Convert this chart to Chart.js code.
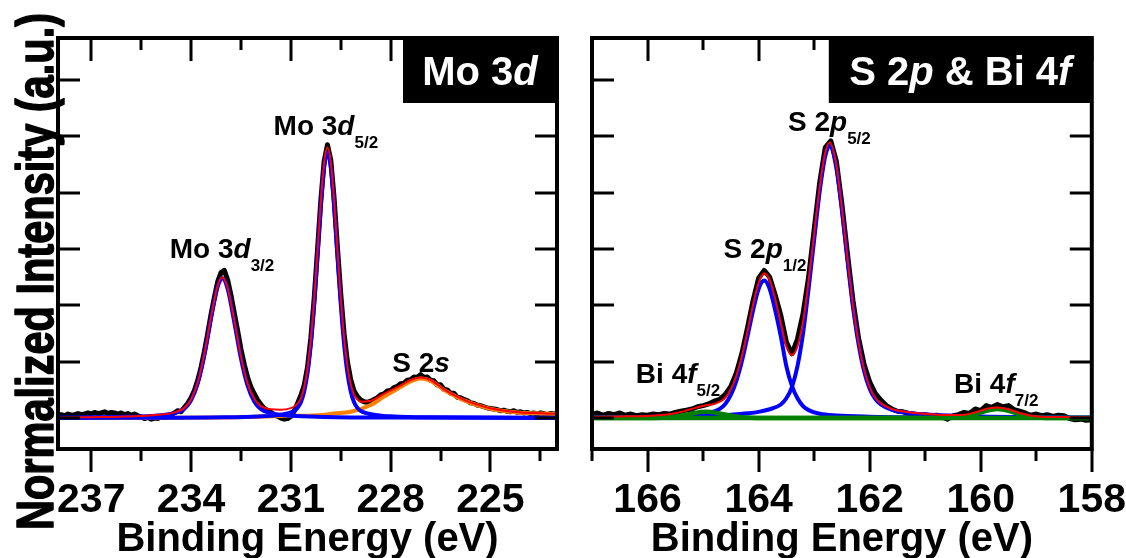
<!DOCTYPE html>
<html>
<head>
<meta charset="utf-8">
<script src="https://cdn.jsdelivr.net/npm/chart.js@4.4.0/dist/chart.umd.min.js"></script>
<style>
  html, body { margin: 0; padding: 0; background: #fff; }
  #wrap { position: relative; width: 1126px; height: 558px; overflow: hidden; }
  .panel { position: absolute; top: 0; height: 558px; }
  #moPanel { left: 0; width: 575px; }
  #sPanel { left: 575px; width: 551px; }
</style>
</head>
<body>
<div id="wrap">
  <div class="panel" id="moPanel"><canvas id="moChart"></canvas></div>
  <div class="panel" id="sPanel"><canvas id="sChart"></canvas></div>
</div>
<script>
const FONT = "'Liberation Sans', Arial, sans-serif";

// shared intensity axis (no labels, ticks only)
const yTicks = [0, 1, 2, 3, 4, 5, 6];
const yMin = -0.55;
const yMax = 6.746;

// ---------- Mo 3d panel ----------
const moTicks = [237, 235.5, 234, 232.5, 231, 229.5, 228, 226.5, 225, 223.5];
const moTickLabels = [237, 234, 231, 228, 225];

// measured spectrum, 238.0 -> 223.0 eV in 0.1 eV steps
const moScanStart = 238.0;
const moScanStep = 0.1;
const moSignal = [
  0.05, 0.06, 0.04, 0.07, 0.05, 0.06, 0.08, 0.06, 0.07, 0.09,
  0.07, 0.10, 0.08, 0.09, 0.11, 0.08, 0.10, 0.09, 0.07, 0.09,
  0.06, 0.08, 0.05, 0.07, 0.04, 0.02, -0.01, 0.01, -0.02, 0.00,
  -0.01, 0.02, 0.01, 0.04, 0.06, 0.09, 0.13, 0.11, 0.19, 0.26,
  0.36, 0.49, 0.67, 0.90, 1.18, 1.50, 1.84, 2.14, 2.42, 2.58,
  2.62, 2.45, 2.18, 1.86, 1.55, 1.22, 0.95, 0.72, 0.55, 0.43,
  0.32, 0.24, 0.17, 0.13, 0.10, 0.06, 0.03, 0.00, -0.02, -0.01,
  0.03, 0.12, 0.26, 0.40, 0.58, 0.90, 1.42, 2.12, 2.98, 3.86,
  4.56, 4.85, 4.58, 3.90, 3.03, 2.20, 1.50, 1.00, 0.68, 0.48,
  0.38, 0.32, 0.29, 0.28, 0.30, 0.33, 0.36, 0.41, 0.43, 0.48,
  0.49, 0.54, 0.56, 0.61, 0.62, 0.67, 0.68, 0.73, 0.72, 0.77,
  0.72, 0.73, 0.67, 0.66, 0.59, 0.59, 0.51, 0.50, 0.44, 0.44,
  0.37, 0.36, 0.33, 0.31, 0.27, 0.26, 0.23, 0.22, 0.20, 0.18,
  0.17, 0.16, 0.15, 0.13, 0.14, 0.12, 0.11, 0.13, 0.10, 0.11,
  0.09, 0.10, 0.08, 0.09, 0.07, 0.09, 0.08, 0.06, 0.08, 0.07,
  0.08
];

// fit: Mo 3d5/2 component
const mo52Energy = [238, 235, 233, 232, 231.4, 230.9, 230.8, 230.7, 230.6, 230.5, 230.4, 230.3, 230.2, 230.1, 230.0, 229.9,
  229.8, 229.7, 229.6, 229.5, 229.4, 229.3, 229.2, 229.1, 229.0, 228.9, 228.4, 227.9, 226.9, 223];
const mo52Fit = [0.002, 0.005, 0.012, 0.027, 0.051, 0.126, 0.18, 0.28, 0.47, 0.80, 1.31, 2.02, 2.88, 3.76, 4.45, 4.71,
  4.45, 3.76, 2.88, 2.02, 1.31, 0.80, 0.47, 0.28, 0.18, 0.126, 0.051, 0.027, 0.012, 0.003];

// fit: Mo 3d3/2 component
const mo32Energy = [238, 236, 235, 234.5, 234.2, 234.0, 233.8, 233.6, 233.4, 233.2, 233.06, 232.9, 232.7, 232.5, 232.3,
  232.1, 231.9, 231.6, 231.0, 230.0, 228.0, 223];
const mo32Fit = [0.007, 0.021, 0.046, 0.086, 0.165, 0.314, 0.613, 1.117, 1.77, 2.33, 2.48, 2.29, 1.70, 1.057, 0.575,
  0.293, 0.158, 0.084, 0.041, 0.02, 0.007, 0.002];

// fit: S 2s component
const s2sEnergy = [238, 233, 232.2, 231.2, 230.2, 229.7, 229.2, 228.6, 228.2, 227.7, 227.4, 227.1, 226.8, 226.4, 226.0,
  225.7, 225.3, 224.9, 224.4, 224.0, 223.5, 223];
const s2sFit = [0.0, 0.01, 0.02, 0.035, 0.05, 0.08, 0.11, 0.23, 0.38, 0.55, 0.65, 0.70, 0.66, 0.50, 0.37,
  0.29, 0.21, 0.15, 0.11, 0.09, 0.08, 0.07];

// fit envelope
const moEnvEnergy = [238, 237, 236, 235, 234.5, 234.2, 234.0, 233.8, 233.6, 233.4, 233.2, 233.06, 232.9, 232.7, 232.5,
  232.3, 232.1, 231.9, 231.6, 231.3, 231.0, 230.9, 230.8, 230.7, 230.6, 230.5, 230.4, 230.3, 230.2, 230.1, 230.0, 229.9,
  229.8, 229.7, 229.6, 229.5, 229.4, 229.3, 229.2, 229.1, 229.0, 228.9, 228.6, 228.2, 227.7, 227.4, 227.1, 226.8,
  226.4, 226.0, 225.7, 225.3, 224.9, 224.4, 224.0, 223.5, 223];
const moEnvFit = [0.01, 0.015, 0.025, 0.056, 0.10, 0.18, 0.33, 0.63, 1.14, 1.79, 2.35, 2.50, 2.31, 1.73, 1.09,
  0.61, 0.34, 0.21, 0.155, 0.148, 0.176, 0.205, 0.254, 0.35, 0.545, 0.875, 1.39, 2.10, 2.95, 3.84, 4.53, 4.80,
  4.54, 3.86, 2.98, 2.13, 1.42, 0.92, 0.60, 0.415, 0.33, 0.29, 0.306, 0.43, 0.58, 0.675, 0.72, 0.675,
  0.51, 0.38, 0.30, 0.22, 0.16, 0.115, 0.095, 0.085, 0.075];

// ---------- S 2p & Bi 4f panel ----------
const sTicks = [167, 166, 165, 164, 163, 162, 161, 160, 159, 158];
const sTickLabels = [166, 164, 162, 160, 158];

// measured spectrum, 167.0 -> 158.0 eV in 0.1 eV steps
const sScanStart = 167.0;
const sScanStep = 0.1;
const sSignal = [
  0.06, 0.09, 0.05, 0.08, 0.06, 0.09, 0.05, 0.07, 0.04, 0.06,
  0.05, 0.07, 0.06, 0.08, 0.07, 0.10, 0.12, 0.14, 0.16, 0.20,
  0.22, 0.25, 0.30, 0.33, 0.42, 0.56, 0.80, 1.15, 1.60, 2.08,
  2.48, 2.62, 2.50, 2.18, 1.82, 1.35, 1.14, 1.40, 1.85, 2.50,
  3.34, 4.18, 4.80, 4.92, 4.56, 3.80, 2.92, 2.08, 1.42, 0.95,
  0.64, 0.44, 0.32, 0.22, 0.16, 0.12, 0.11, 0.08, 0.07, 0.05,
  0.06, 0.04, 0.05, 0.02, -0.02, 0.04, 0.06, 0.10, 0.08, 0.16,
  0.13, 0.22, 0.19, 0.24, 0.20, 0.22, 0.15, 0.12, 0.09, 0.05,
  0.07, 0.04, 0.06, 0.03, 0.05, 0.04, -0.01, -0.03, -0.02, -0.04,
  -0.03
];

// fit: S 2p (main) component
const sp52Energy = [167, 166, 165, 164.5, 164.2, 164.0, 163.8, 163.6, 163.5, 163.4, 163.3, 163.2, 163.1, 163.0, 162.9,
  162.8, 162.72, 162.6, 162.5, 162.4, 162.3, 162.2, 162.1, 162.0, 161.9, 161.8, 161.6, 161.3, 160.9, 160, 159, 158];
const sp52Fit = [0.010, 0.018, 0.036, 0.058, 0.083, 0.109, 0.156, 0.24, 0.35, 0.55, 0.92, 1.50, 2.29, 3.16, 4.02,
  4.65, 4.83, 4.44, 3.69, 2.80, 1.97, 1.31, 0.83, 0.52, 0.34, 0.24, 0.144, 0.09, 0.056, 0.026, 0.014, 0.009];

// fit: S 2p1/2 component
const sp12Energy = [167, 166, 165.2, 164.9, 164.7, 164.6, 164.5, 164.4, 164.3, 164.2, 164.1, 164.0, 163.9, 163.8, 163.7,
  163.6, 163.5, 163.4, 163.3, 163.2, 163.1, 162.9, 162.6, 162.0, 161, 160, 158];
const sp12Fit = [0.009, 0.02, 0.05, 0.086, 0.163, 0.25, 0.41, 0.66, 1.01, 1.45, 1.91, 2.29, 2.44, 2.29, 1.91,
  1.45, 0.92, 0.57, 0.35, 0.21, 0.14, 0.075, 0.045, 0.024, 0.011, 0.006, 0.003];

// fit: Bi 4f5/2 and Bi 4f7/2 components
const bi52Energy = [167, 166, 165.75, 165.55, 165.35, 165.15, 164.95, 164.75, 164.55, 164.35, 164.15, 163.9, 158];
const bi52Fit = [0, 0, 0.005, 0.02, 0.05, 0.09, 0.11, 0.09, 0.05, 0.02, 0.005, 0, 0];
const bi72Energy = [167, 160.7, 160.5, 160.3, 160.1, 159.9, 159.7, 159.5, 159.3, 159.1, 158.9, 158.7, 158];
const bi72Fit = [0, 0, 0.005, 0.02, 0.065, 0.13, 0.16, 0.13, 0.065, 0.02, 0.005, 0, 0];

// fit envelope
const sEnvEnergy = [167, 166.5, 166, 165.75, 165.55, 165.35, 165.15, 164.95, 164.8, 164.7, 164.6, 164.5, 164.4, 164.3,
  164.2, 164.1, 164.0, 163.9, 163.8, 163.7, 163.6, 163.5, 163.4, 163.3, 163.2, 163.1, 163.0, 162.9, 162.8, 162.72,
  162.6, 162.5, 162.4, 162.3, 162.2, 162.1, 162.0, 161.9, 161.8, 161.6, 161.3, 160.9, 160.5, 160.3, 160.1, 159.9,
  159.7, 159.5, 159.3, 159.1, 158.9, 158.5, 158];
const sEnvFit = [0.02, 0.028, 0.038, 0.052, 0.076, 0.118, 0.176, 0.226, 0.25, 0.29, 0.36, 0.51, 0.75, 1.10,
  1.54, 2.01, 2.40, 2.57, 2.45, 2.11, 1.69, 1.27, 1.12, 1.27, 1.71, 2.43, 3.26, 4.10, 4.71, 4.89,
  4.49, 3.73, 2.84, 2.00, 1.34, 0.86, 0.545, 0.36, 0.26, 0.16, 0.104, 0.068, 0.052, 0.06, 0.10, 0.162,
  0.188, 0.156, 0.088, 0.041, 0.023, 0.016, 0.012];

// peak annotations: anchor = [binding energy, intensity] of the text baseline start
const moPeakLabels = [
  { at: [231.52, 5.02], runs: [['Mo 3'], ['d', 'i'], ['5/2', 's']] },
  { at: [234.64, 2.84], runs: [['Mo 3'], ['d', 'i'], ['3/2', 's']] },
  { at: [227.95, 0.82], runs: [['S 2'], ['s', 'i']] }
];
const sPeakLabels = [
  { at: [163.47, 5.10], runs: [['S 2'], ['p', 'i'], ['5/2', 's']] },
  { at: [164.63, 2.84], runs: [['S 2'], ['p', 'i'], ['1/2', 's']] },
  { at: [166.21, 0.62], runs: [['Bi 4'], ['f', 'i'], ['5/2', 's']] },
  { at: [160.48, 0.44], runs: [['Bi 4'], ['f', 'i'], ['7/2', 's']] }
];

function pts(xs, ys) {
  return xs.map(function (x, i) { return { x: x, y: ys[i] }; });
}

function scan(start, step, ys) {
  return ys.map(function (y, i) { return { x: +(start - i * step).toFixed(2), y: y }; });
}

function curve(points, color, width, smooth) {
  return {
    data: points,
    borderColor: color,
    borderWidth: width,
    pointRadius: 0,
    fill: false,
    clip: 0,
    tension: 0,
    borderJoinStyle: 'round',
    cubicInterpolationMode: smooth ? 'monotone' : 'default'
  };
}

// mixed bold / italic / subscript text
function drawRuns(ctx, x, y, runs, size, subSize, subDrop, measureOnly) {
  runs.forEach(function (r) {
    const isSub = r[1] === 's';
    ctx.font = (r[1] === 'i' ? 'italic ' : '') + 'bold ' + (isSub ? subSize : size) + 'px ' + FONT;
    if (!measureOnly) {
      ctx.fillText(r[0], x, isSub ? y + subDrop : y);
    }
    x += ctx.measureText(r[0]).width;
  });
  return x;
}

function makeFrame(cfg) {
  return {
    id: 'frame_' + cfg.name,
    afterDraw: function (chart) {
      const ctx = chart.ctx;
      const a = chart.chartArea;
      const sx = chart.scales.x;
      const sy = chart.scales.y;
      ctx.save();

      // tick marks: outward at bottom, inward on the other sides
      ctx.strokeStyle = '#000';
      ctx.lineWidth = 3;
      ctx.beginPath();
      cfg.ticks.forEach(function (v) {
        const px = Math.round(sx.getPixelForValue(v));
        const major = cfg.labels.indexOf(v) >= 0;
        ctx.moveTo(px, a.bottom);
        ctx.lineTo(px, a.bottom + (major ? 23 : 12));
        ctx.moveTo(px, a.top);
        ctx.lineTo(px, a.top + (major ? 23 : 12));
      });
      yTicks.forEach(function (v) {
        const py = Math.round(sy.getPixelForValue(v));
        ctx.moveTo(a.left, py);
        ctx.lineTo(a.left + 22, py);
        ctx.moveTo(a.right, py);
        ctx.lineTo(a.right - 22, py);
      });
      ctx.stroke();

      ctx.lineWidth = 4;
      ctx.strokeRect(a.left, a.top, a.right - a.left, a.bottom - a.top);

      // region tag in the top right corner
      ctx.fillStyle = '#000';
      ctx.fillRect(a.right - cfg.boxWidth, a.top, cfg.boxWidth, 65);
      ctx.fillStyle = '#fff';
      ctx.textAlign = 'left';
      ctx.textBaseline = 'alphabetic';
      const tw = drawRuns(ctx, 0, 0, cfg.tag, 40, 24, 12, true);
      drawRuns(ctx, a.right - cfg.boxWidth / 2 - tw / 2, a.top + 47, cfg.tag, 40, 24, 12, false);

      // peak names
      ctx.fillStyle = '#000';
      cfg.peaks.forEach(function (p) {
        const px = sx.getPixelForValue(p.at[0]);
        const py = sy.getPixelForValue(p.at[1]);
        drawRuns(ctx, px, py, p.runs, 28, 17, 13, false);
      });

      // shared y axis title, heavy and slightly condensed
      if (cfg.yTitle) {
        ctx.font = 'bold 52px ' + FONT;
        const w = ctx.measureText(cfg.yTitle).width;
        ctx.translate(53, 271.5);
        ctx.rotate(-Math.PI / 2);
        ctx.scale(517 / w, 1);
        ctx.textAlign = 'center';
        ctx.lineWidth = 1.5;
        ctx.lineJoin = 'round';
        ctx.fillText(cfg.yTitle, 0, 0);
        ctx.strokeText(cfg.yTitle, 0, 0);
      }
      ctx.restore();
    }
  };
}

function makeChart(cfg, datasets) {
  return new Chart(document.getElementById(cfg.canvas), {
    type: 'line',
    data: { datasets: datasets },
    options: {
      responsive: true,
      maintainAspectRatio: false,
      animation: false,
      devicePixelRatio: 1,
      events: [],
      layout: { padding: { top: 38, right: cfg.padRight, bottom: 0, left: 0 } },
      plugins: { legend: { display: false }, tooltip: { enabled: false } },
      scales: {
        x: {
          type: 'linear',
          reverse: true,
          min: cfg.min,
          max: cfg.max,
          afterBuildTicks: function (s) { s.ticks = cfg.ticks.map(function (v) { return { value: v }; }); },
          afterFit: function (s) { s.height = 109; },
          // tick marks are drawn by the frame plugin; tickLength only offsets the labels
          grid: { display: false, drawTicks: true, tickLength: 27 },
          border: { display: false },
          ticks: {
            autoSkip: false,
            maxRotation: 0,
            minRotation: 0,
            padding: 0,
            color: '#000',
            font: { family: FONT, size: 41, weight: 'bold' },
            callback: function (v) { return cfg.labels.indexOf(v) >= 0 ? String(v) : ''; }
          },
          title: {
            display: true,
            text: 'Binding Energy (eV)',
            color: '#000',
            padding: 0,
            font: { family: FONT, size: 40, weight: 'bold', lineHeight: 0.9 }
          }
        },
        y: {
          min: yMin,
          max: yMax,
          afterBuildTicks: function (s) { s.ticks = yTicks.map(function (v) { return { value: v }; }); },
          afterFit: function (s) { s.width = cfg.yWidth; },
          grid: { display: false, drawTicks: false },
          border: { display: false },
          ticks: { display: false }
        }
      }
    },
    plugins: [makeFrame(cfg)]
  });
}

makeChart({
  name: 'mo', canvas: 'moChart', min: 223, max: 238, padRight: 18, yWidth: 58,
  ticks: moTicks, labels: moTickLabels, boxWidth: 154,
  tag: [['Mo 3'], ['d', 'i']], peaks: moPeakLabels,
  yTitle: 'Normalized Intensity (a.u.)'
}, [
  curve(pts(moEnvEnergy, moEnvFit), '#ff0000', 2, true),
  curve(pts(mo52Energy, mo52Fit), '#0000ff', 4, true),
  curve(pts(mo32Energy, mo32Fit), '#0000ff', 4, true),
  curve(pts(s2sEnergy, s2sFit), '#ff8000', 4, true),
  curve(scan(moScanStart, moScanStep, moSignal), '#000000', 5, false)
]);

makeChart({
  name: 's', canvas: 'sChart', min: 158, max: 167, padRight: 34, yWidth: 17,
  ticks: sTicks, labels: sTickLabels, boxWidth: 263,
  tag: [['S 2'], ['p', 'i'], [' & Bi 4'], ['f', 'i']], peaks: sPeakLabels,
  yTitle: null
}, [
  curve(pts(sEnvEnergy, sEnvFit), '#ff0000', 2, true),
  curve(pts(bi52Energy, bi52Fit), '#008000', 4.5, true),
  curve(pts(bi72Energy, bi72Fit), '#008000', 4.5, true),
  curve(pts(sp52Energy, sp52Fit), '#0000ff', 4, true),
  curve(pts(sp12Energy, sp12Fit), '#0000ff', 4, true),
  curve(scan(sScanStart, sScanStep, sSignal), '#000000', 5, false)
]);
</script>
</body>
</html>
